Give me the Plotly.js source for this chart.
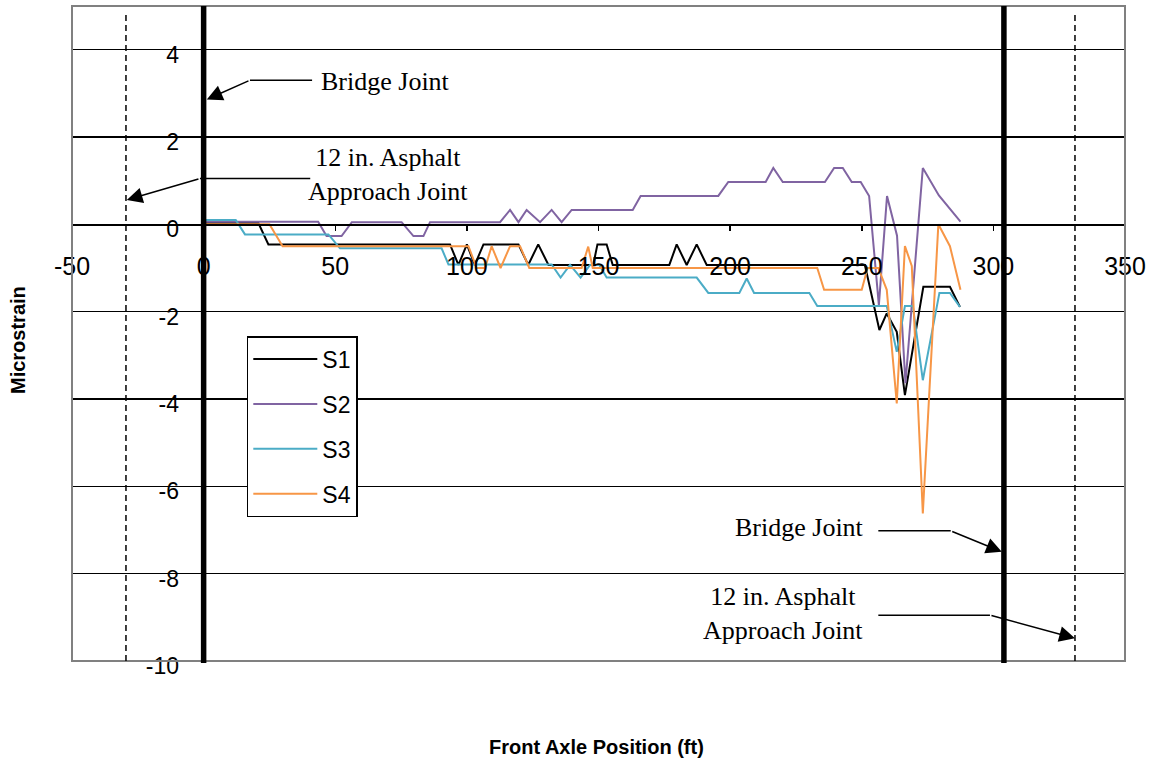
<!DOCTYPE html>
<html>
<head>
<meta charset="utf-8">
<script src="https://cdn.plot.ly/plotly-3.0.1.min.js"></script>
<style>html,body{margin:0;padding:0;background:#fff;}#chart{width:1151px;height:763px;}</style>
</head>
<body>
<div id="chart"></div>
<script>
// Front axle position (ft) and microstrain readings
const s1X = [0, 20.8, 24.6, 93.6, 96.8, 100, 103, 106.3, 119.6, 123.3, 127.1, 131, 148, 149.6, 153.1, 155.4, 176.9, 179.7, 183.5, 187.3, 191.1, 251.2, 256.7, 259.5, 263.3, 266.4, 273.4, 283.5, 287.3];
const s1Y = [0.03, 0.03, -0.46, -0.46, -0.93, -0.46, -0.93, -0.46, -0.46, -0.93, -0.46, -0.93, -0.93, -0.46, -0.46, -0.93, -0.93, -0.46, -0.93, -0.46, -0.93, -0.93, -2.42, -2.04, -2.46, -3.91, -1.43, -1.43, -1.89];

const s2X = [0, 43.5, 46.7, 52.4, 56.3, 75.2, 79.7, 83.5, 86, 112.6, 116.4, 119.6, 122.7, 127.8, 132.2, 136, 139.8, 163, 166, 195.5, 199.3, 213.5, 216.4, 220, 236, 239.5, 242.8, 246.2, 249.6, 252.8, 256.5, 259.6, 263.4, 266.6, 273.2, 279.3, 287.5];
const s2Y = [0.06, 0.06, -0.27, -0.27, 0.05, 0.05, -0.27, -0.27, 0.05, 0.05, 0.33, 0.05, 0.33, 0.05, 0.33, 0.05, 0.33, 0.33, 0.65, 0.65, 0.97, 0.97, 1.29, 0.97, 0.97, 1.29, 1.29, 0.97, 0.97, 0.65, -1.85, 0.65, -0.26, -3.64, 1.29, 0.66, 0.06];

const s3X = [0, 12.2, 15.7, 47.4, 51.8, 90.4, 93, 132.2, 135.6, 139.2, 143.2, 146.8, 150.3, 153.1, 187.3, 191.7, 203.5, 206.3, 209.1, 230.1, 233.1, 259.5, 263.3, 266.4, 269.4, 273.2, 279.5, 283.5, 287.3];
const s3Y = [0.1, 0.1, -0.23, -0.23, -0.55, -0.55, -0.92, -0.92, -1.22, -0.93, -1.22, -0.93, -0.93, -1.22, -1.22, -1.57, -1.57, -1.24, -1.57, -1.57, -1.87, -1.87, -2.92, -1.87, -1.87, -3.57, -1.57, -1.57, -1.89];

const s4X = [0, 25, 30, 100.6, 103.7, 106.9, 109.4, 112.8, 116.4, 120.2, 123.7, 143.6, 146.1, 147.8, 233.1, 235.7, 250, 252.2, 256.3, 259.5, 263.3, 266.4, 269, 273.2, 279.1, 283.5, 287.5];
const s4Y = [0, 0, -0.5, -0.5, -1.0, -1.0, -0.5, -1.0, -0.5, -0.5, -1.0, -1.0, -0.51, -1.0, -1.0, -1.5, -1.5, -1.0, -1.0, -1.5, -4.1, -0.5, -0.95, -6.62, 0, -0.5, -1.5];

const seriesNames = ['S1', 'S2', 'S3', 'S4'];
const seriesColors = ['#000000', '#8064A2', '#4BACC6', '#F79646'];
const xTicks = [-50, 0, 50, 100, 150, 200, 250, 300, 350];
const yTicks = [-10, -8, -6, -4, -2, 0, 2, 4];

const xs = [s1X, s2X, s3X, s4X];
const ys = [s1Y, s2Y, s3Y, s4Y];
const traces = seriesNames.map((n, i) => ({
  x: xs[i], y: ys[i], name: n, type: 'scatter', mode: 'lines',
  legendgroup: 'g' + i,
  line: {color: seriesColors[i], width: 2}
}));

const sans = 'Liberation Sans, Arial, sans-serif';
const serif = 'Liberation Serif, Times New Roman, serif';
const arrowStyle = {showarrow: true, arrowhead: 2, arrowsize: 2.1, arrowwidth: 1.5, arrowcolor: '#000', text: '', axref: 'x', ayref: 'y', xref: 'x', yref: 'y'};

const layout = {
  width: 1151, height: 763,
  margin: {l: 72, r: 26, t: 6, b: 102},
  paper_bgcolor: '#fff', plot_bgcolor: '#fff',
  showlegend: true,
  legend: {
    x: 0.166, y: 0.496, xanchor: 'left', yanchor: 'top',
    bordercolor: '#000', borderwidth: 1.5, bgcolor: '#fff',
    font: {family: sans, size: 23, color: '#000'},
    tracegroupgap: 12, itemwidth: 64
  },
  xaxis: {
    range: [-50, 350], tickvals: xTicks, ticktext: xTicks.map(String),
    anchor: 'free', position: 2 / 3,
    showline: true, linecolor: '#000', linewidth: 1.5,
    ticks: 'outside', ticklen: 5, tickwidth: 1.5, tickcolor: '#000',
    showgrid: false, zeroline: false,
    ticklabelstandoff: 14,
    tickfont: {family: sans, size: 25, color: '#000'}
  },
  yaxis: {
    range: [-10, 5], tickvals: yTicks, ticktext: yTicks.map(String),
    anchor: 'free', position: 0.125,
    showline: false,
    ticks: 'outside', ticklen: 5, tickwidth: 1.5, tickcolor: '#000',
    showgrid: true, gridcolor: '#000', gridwidth: 1.5, zeroline: false,
    ticklabelstandoff: 15, ticklabelshift: 5,
    tickfont: {family: sans, size: 23, color: '#000'}
  },
  shapes: [
    {type: 'rect', xref: 'paper', yref: 'paper', x0: 0, x1: 1, y0: 0, y1: 1, line: {color: '#808080', width: 2}, layer: 'above'},
    {type: 'line', xref: 'x', yref: 'paper', x0: 0, x1: 0, y0: -0.003, y1: 1, line: {color: '#000', width: 5.5}},
    {type: 'line', xref: 'x', yref: 'paper', x0: 304, x1: 304, y0: -0.003, y1: 1, line: {color: '#000', width: 5.5}},
    {type: 'line', xref: 'x', yref: 'paper', x0: -29.5, x1: -29.5, y0: 0, y1: 0.989, line: {color: '#000', width: 1.5, dash: '6px,4px'}},
    {type: 'line', xref: 'x', yref: 'paper', x0: 331, x1: 331, y0: 0, y1: 0.989, line: {color: '#000', width: 1.5, dash: '6px,4px'}},
    {type: 'line', xref: 'x', yref: 'y', x0: 17.6, x1: 41.2, y0: 3.30, y1: 3.30, line: {color: '#000', width: 1.5}},
    {type: 'line', xref: 'x', yref: 'y', x0: -1.4, x1: 40.5, y0: 1.05, y1: 1.05, line: {color: '#000', width: 1.5}},
    {type: 'line', xref: 'x', yref: 'y', x0: 256.3, x1: 283.8, y0: -7.02, y1: -7.02, line: {color: '#000', width: 1.5}},
    {type: 'line', xref: 'x', yref: 'y', x0: 256.3, x1: 298.7, y0: -8.95, y1: -8.95, line: {color: '#000', width: 1.5}}
  ],
  annotations: [
    {xref: 'paper', yref: 'paper', x: 0.4985, y: -0.132, xanchor: 'center', yanchor: 'middle', showarrow: false,
     text: '<b>Front Axle Position (ft)</b>', font: {family: sans, size: 20, color: '#000'}},
    {xref: 'paper', yref: 'paper', x: -0.0513, y: 0.49, xanchor: 'center', yanchor: 'middle', showarrow: false, textangle: -90,
     text: '<b>Microstrain</b>', font: {family: sans, size: 20, color: '#000'}},

    {xref: 'x', yref: 'y', x: 43.9, y: 3.26, xanchor: 'left', yanchor: 'middle', showarrow: false,
     text: 'Bridge Joint', font: {family: serif, size: 26, color: '#000'}},
    Object.assign({x: 1.2, y: 2.86, ax: 17.6, ay: 3.30}, arrowStyle),

    {xref: 'x', yref: 'y', x: 70, y: 1.14, xanchor: 'center', yanchor: 'middle', showarrow: false,
     text: '12 in. Asphalt<br>Approach Joint', font: {family: serif, size: 26, color: '#000'}},
    Object.assign({x: -29.2, y: 0.56, ax: -1.4, ay: 1.05}, arrowStyle),

    {xref: 'x', yref: 'y', x: 226.2, y: -6.95, xanchor: 'center', yanchor: 'middle', showarrow: false,
     text: 'Bridge Joint', font: {family: serif, size: 26, color: '#000'}},
    Object.assign({x: 303.2, y: -7.50, ax: 283.8, ay: -7.02}, arrowStyle),

    {xref: 'x', yref: 'y', x: 220.1, y: -8.92, xanchor: 'center', yanchor: 'middle', showarrow: false,
     text: '12 in. Asphalt<br>Approach Joint', font: {family: serif, size: 26, color: '#000'}},
    Object.assign({x: 331, y: -9.48, ax: 298.7, ay: -8.95}, arrowStyle)
  ]
};

Plotly.newPlot('chart', traces, layout, {displayModeBar: false, staticPlot: true});
</script>
</body>
</html>
